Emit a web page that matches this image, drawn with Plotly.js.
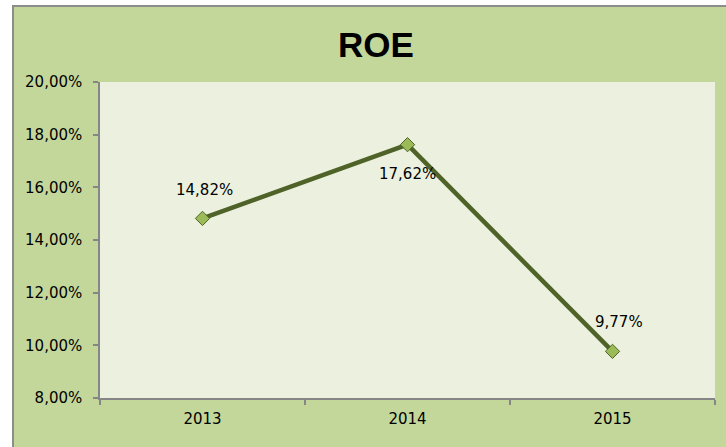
<!DOCTYPE html>
<html>
<head>
<meta charset="utf-8">
<script src="https://cdn.plot.ly/plotly-3.0.1.min.js"></script>
<style>
html,body{margin:0;padding:0;background:#ffffff;width:726px;height:447px;overflow:hidden;}
#frame{position:absolute;left:12px;top:5px;width:716px;height:444px;border-left:2px solid #8c8c8c;border-top:2px solid #8c8c8c;background:#c4d79b;}
#chart{position:absolute;left:0;top:0;width:716px;height:444px;}
</style>
</head>
<body>
<div id="frame"><div id="chart"></div></div>
<script>
const years = ['2013', '2014', '2015'];
const roe = [14.82, 17.62, 9.77];
const roeLabels = ['14,82%', '17,62%', '9,77%'];
const yTickVals = [8, 10, 12, 14, 16, 18, 20];
const yTickText = ['8,00%', '10,00%', '12,00%', '14,00%', '16,00%', '18,00%', '20,00%'];
const labelShiftY = [28, -29, 29];
const labelShiftX = [2, 0, 6];

const trace = {
  x: years,
  y: roe,
  type: 'scatter',
  mode: 'lines+markers',
  line: {color: '#4f6228', width: 4.5},
  marker: {symbol: 'diamond', size: 11, color: '#9bbb59', line: {color: '#4f6228', width: 1}},
  hoverinfo: 'skip'
};

const annotations = years.map(function (yr, i) {
  return {
    x: i, y: roe[i], xref: 'x', yref: 'y',
    text: roeLabels[i], showarrow: false,
    xanchor: 'center', yanchor: 'middle',
    xshift: labelShiftX[i], yshift: labelShiftY[i],
    font: {family: 'DejaVu Sans', size: 15, color: '#000000'}
  };
});

const layout = {
  width: 716, height: 444,
  paper_bgcolor: 'rgba(0,0,0,0)',
  plot_bgcolor: '#ebf1de',
  margin: {l: 86, r: 15, t: 75, b: 53, pad: 0},
  showlegend: false,
  title: {
    text: '<b>ROE</b>',
    font: {family: 'Liberation Sans', size: 35, color: '#000000'},
    x: 362/716, xanchor: 'center', xref: 'container',
    y: 1 - 38/444, yanchor: 'middle', yref: 'container'
  },
  xaxis: {
    type: 'category',
    tickson: 'boundaries',
    ticks: 'outside', ticklen: 5, tickwidth: 1.5, tickcolor: '#868686',
    showline: true, linecolor: '#868686', linewidth: 2,
    showgrid: false, zeroline: false,
    tickfont: {family: 'DejaVu Sans', size: 15, color: '#000000'},
    ticklabelstandoff: 6,
    range: [-0.5, 2.5], fixedrange: true
  },
  yaxis: {
    range: [8, 20],
    tickvals: yTickVals, ticktext: yTickText,
    ticks: 'outside', ticklen: 5, tickwidth: 1.5, tickcolor: '#868686',
    showline: true, linecolor: '#868686', linewidth: 1.5,
    showgrid: false, zeroline: false,
    tickfont: {family: 'DejaVu Sans', size: 15, color: '#000000'},
    ticklabelstandoff: 8,
    fixedrange: true
  },
  annotations: annotations
};

Plotly.newPlot('chart', [trace], layout, {displayModeBar: false});
</script>
</body>
</html>
